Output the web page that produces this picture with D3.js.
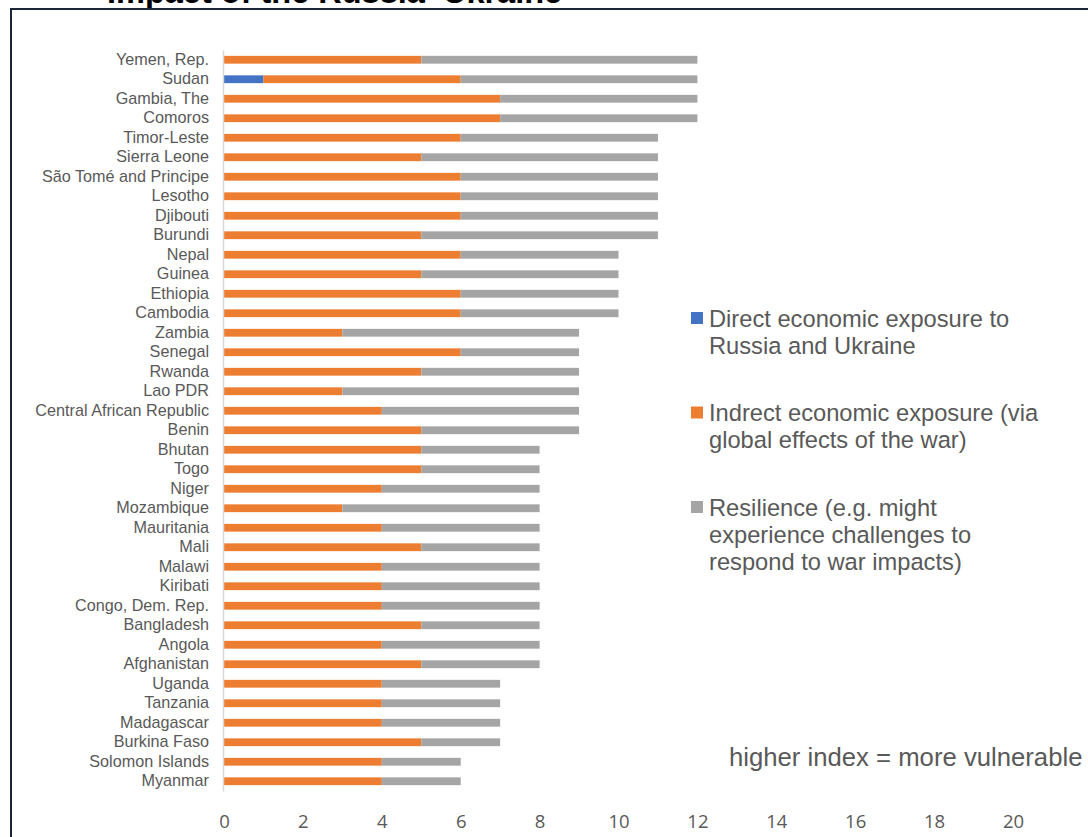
<!DOCTYPE html>
<html>
<head>
<meta charset="utf-8">
<script src="https://cdn.jsdelivr.net/npm/d3@7"></script>
<style>
  html, body { margin: 0; padding: 0; background: #fff; }
  svg { display: block; }
</style>
</head>
<body>
<div class="visual"></div>
<script>
const [width, height] = [1088, 837];

const countries = [
  'Yemen, Rep.', 'Sudan', 'Gambia, The', 'Comoros', 'Timor-Leste', 'Sierra Leone',
  'São Tomé and Principe', 'Lesotho', 'Djibouti', 'Burundi', 'Nepal', 'Guinea',
  'Ethiopia', 'Cambodia', 'Zambia', 'Senegal', 'Rwanda', 'Lao PDR',
  'Central African Republic', 'Benin', 'Bhutan', 'Togo', 'Niger', 'Mozambique',
  'Mauritania', 'Mali', 'Malawi', 'Kiribati', 'Congo, Dem. Rep.', 'Bangladesh',
  'Angola', 'Afghanistan', 'Uganda', 'Tanzania', 'Madagascar', 'Burkina Faso',
  'Solomon Islands', 'Myanmar',
];
const direct = [
  0, 1, 0, 0, 0, 0, 0, 0, 0, 0, 0, 0, 0, 0, 0, 0, 0, 0, 0,
  0, 0, 0, 0, 0, 0, 0, 0, 0, 0, 0, 0, 0, 0, 0, 0, 0, 0, 0,
];
const indirect = [
  5, 5, 7, 7, 6, 5, 6, 6, 6, 5, 6, 5, 6, 6, 3, 6, 5, 3, 4,
  5, 5, 5, 4, 3, 4, 5, 4, 4, 4, 5, 4, 5, 4, 4, 4, 5, 4, 4,
];
const resilience = [
  7, 6, 5, 5, 5, 6, 5, 5, 5, 6, 4, 5, 4, 4, 6, 3, 4, 6, 5,
  4, 3, 3, 4, 5, 4, 3, 4, 4, 4, 3, 4, 3, 3, 3, 3, 2, 2, 2,
];
const x_ticks = [0, 2, 4, 6, 8, 10, 12, 14, 16, 18, 20];
const series_keys = ['direct', 'indirect', 'resilience'];
const series_colors = ['#4472C4', '#ED7D31', '#A5A5A5'];
const legend_lines = [
  ['Direct economic exposure to', 'Russia and Ukraine'],
  ['Indrect economic exposure (via', 'global effects of the war)'],
  ['Resilience (e.g. might', 'experience challenges to', 'respond to war impacts)'],
];
const TITLE = 'Impact of the Russia\u2013Ukraine';
const NOTE = 'higher index = more vulnerable';

const rows = countries.map((name, i) => ({
  name,
  direct: direct[i],
  indirect: indirect[i],
  resilience: resilience[i],
}));

const svg = d3
  .select('.visual')
  .append('svg')
  .attr('width', width)
  .attr('height', height);

svg.append('rect').attr('width', width).attr('height', height).attr('fill', '#fff');

const x_scale = d3.scaleLinear().domain([0, 20]).range([224, 1013]);
const y_scale = d3
  .scaleBand()
  .domain(countries)
  .range([50, 791])
  .paddingInner(0.6)
  .paddingOuter(0.3);

const stacked = d3.stack().keys(series_keys)(rows);
const color = d3.scaleOrdinal().domain(series_keys).range(series_colors);

// bars
svg
  .append('g')
  .selectAll('g')
  .data(stacked)
  .enter()
  .append('g')
  .attr('fill', (d) => color(d.key))
  .selectAll('rect')
  .data((d) => d)
  .enter()
  .append('rect')
  .attr('x', (d) => x_scale(d[0]))
  .attr('y', (d) => y_scale(d.data.name))
  .attr('width', (d) => x_scale(d[1]) - x_scale(d[0]))
  .attr('height', y_scale.bandwidth());

// category axis
const y_axis = svg
  .append('g')
  .attr('transform', 'translate(223, 0)')
  .call(d3.axisLeft(y_scale).tickSize(0).tickPadding(14));
y_axis.select('.domain').attr('stroke', '#d9d9d9').attr('stroke-width', 1.5);
y_axis
  .selectAll('text')
  .attr('fill', '#595959')
  .style('font-family', '"Liberation Sans", Arial, sans-serif')
  .style('font-size', '16.2px');

// value axis (labels only)
const x_axis = svg
  .append('g')
  .attr('transform', 'translate(0, 815)')
  .call(d3.axisBottom(x_scale).tickValues(x_ticks).tickSize(0).tickPadding(0));
x_axis.select('.domain').remove();
x_axis
  .selectAll('text')
  .attr('fill', '#595959')
  .style('font-family', '"Open Sans", sans-serif')
  .style('font-size', '18.5px');

// legend
const legend = svg
  .append('g')
  .selectAll('g')
  .data(legend_lines)
  .enter()
  .append('g')
  .attr('transform', (d, i) => `translate(691, ${318 + i * 94.5})`);

legend
  .append('rect')
  .attr('x', 0)
  .attr('y', -6)
  .attr('width', 12)
  .attr('height', 12)
  .attr('fill', (d, i) => series_colors[i]);

legend
  .append('text')
  .attr('x', 18)
  .attr('y', 8.5)
  .attr('fill', '#595959')
  .style('font-family', '"Liberation Sans", Arial, sans-serif')
  .style('font-size', '23.7px')
  .selectAll('tspan')
  .data((d) => d)
  .enter()
  .append('tspan')
  .attr('x', 18)
  .attr('dy', (d, i) => (i === 0 ? 0 : 27))
  .text((d) => d);

svg
  .append('text')
  .attr('x', 729)
  .attr('y', 766)
  .attr('fill', '#595959')
  .style('font-family', '"Liberation Sans", Arial, sans-serif')
  .style('font-size', '25.7px')
  .text(NOTE);

// clipped title above the frame
svg
  .append('text')
  .attr('x', 107)
  .attr('y', 3)
  .attr('fill', '#000')
  .style('font-family', '"Liberation Sans", Arial, sans-serif')
  .style('font-weight', 'bold')
  .style('font-size', '32.5px')
  .text(TITLE);

// frame
svg
  .append('path')
  .attr('d', `M11,${height} V9 H${width}`)
  .attr('fill', 'none')
  .attr('stroke', '#1c2639')
  .attr('stroke-width', 2);
</script>
</body>
</html>
